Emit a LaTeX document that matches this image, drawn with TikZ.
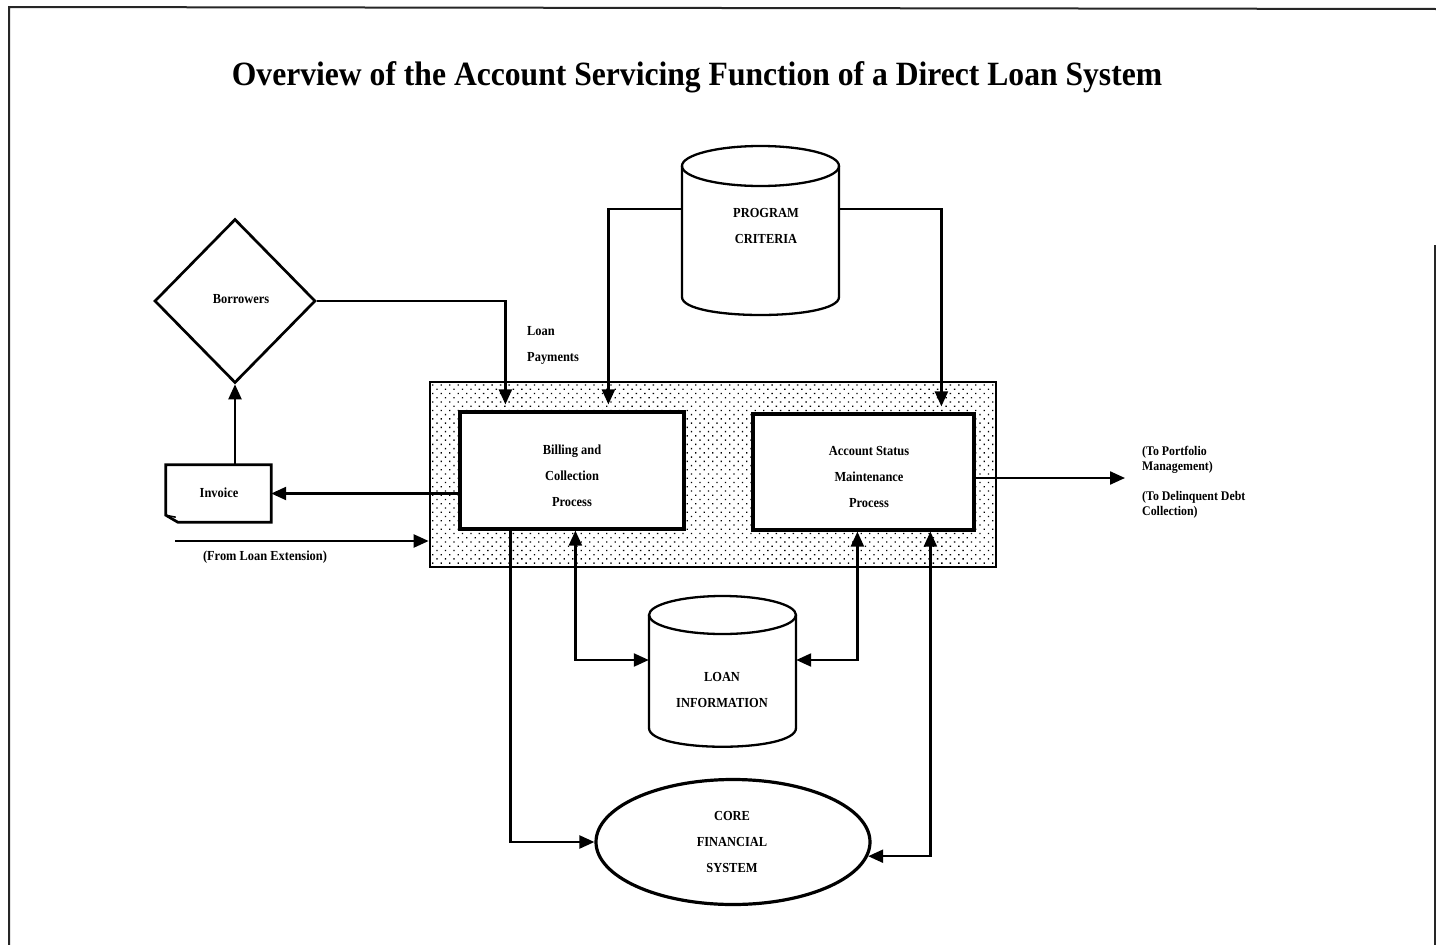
\documentclass[tikz,border=0pt]{standalone}
\usepackage{fontspec}
\setmainfont{Liberation Serif}
\newfontfamily\condserif[FakeStretch=0.9]{Liberation Serif}
\newfontfamily\titleserif[FakeStretch=0.93]{Liberation Serif}
\usetikzlibrary{shapes.geometric,arrows.meta,patterns.meta}
\begin{document}
\begin{tikzpicture}[x=1pt,y=-1pt,
  txt/.style={font=\condserif\bfseries\fontsize{13.8}{26}\selectfont, align=center, inner sep=0pt},
  smalltxt/.style={font=\condserif\bfseries\fontsize{13.2}{15.5}\selectfont, align=left, inner sep=0pt},
  conn/.style={line width=2.3pt, draw=black},
  arr/.style={conn, -{Triangle[length=15pt,width=13pt]}},
  darr/.style={conn, {Triangle[length=15pt,width=13pt]}-{Triangle[length=15pt,width=13pt]}},
  procbox/.style={draw, line width=3.2pt, fill=white, inner sep=0pt},
  ghost/.style={draw=none, inner sep=0pt},
  dbline/.style={line width=2.3pt},
  frameline/.style={line width=2pt, black!85}]
\useasboundingbox (0,0) rectangle (1436,945);
% frame
\draw[frameline] (9,945) -- (9,7) -- (1436,9);
\draw[frameline] (1435,245) -- (1435,945);

% title
\node[font=\titleserif\bfseries\fontsize{34}{38}\selectfont, inner sep=0pt] (title) at (697,77)
  {Overview of the Account Servicing Function of a Direct Loan System};

% shaded outer box
\node[draw, line width=2.7pt, pattern={Dots[distance=6pt,radius=0.95pt,angle=45]},
  minimum width=566pt, minimum height=185pt, inner sep=0pt] (outer) at (713,474.5) {};

% process boxes
\node[procbox, minimum width=224pt, minimum height=117pt] (bill) at (572,470.5) {};
\node[txt] (billtxt) at (572,476) {Billing and\\Collection\\Process};
\node[procbox, minimum width=221pt, minimum height=116pt] (acc) at (863.5,472) {};
\node[txt] (acctxt) at (869,477) {Account Status\\Maintenance\\Process};

% program criteria cylinder
\node[ghost, minimum width=157pt, minimum height=170pt] (pc) at (760.5,230) {};
\draw[dbline, fill=white] (682,166) -- (682,297)
   .. controls (682,321) and (839,321) .. (839,297) -- (839,166);
\draw[dbline] (760.5,166) ellipse [x radius=78.5, y radius=20];
\node[txt] (pctxt) at (766,226) {PROGRAM\\CRITERIA};

% loan information cylinder
\node[ghost, minimum width=147pt, minimum height=151pt] (li) at (722.5,671.5) {};
\draw[dbline, fill=white] (649,615) -- (649,728)
   .. controls (649,753) and (796,753) .. (796,728) -- (796,615);
\draw[dbline] (722.5,615) ellipse [x radius=73.5, y radius=19];
\node[txt] (litxt) at (722,690) {LOAN\\INFORMATION};

% core financial system
\node[ellipse, draw, line width=3.2pt, minimum width=274pt, minimum height=125pt, inner sep=0pt]
  (core) at (733,842) {};
\node[txt] (coretxt) at (732,842) {CORE\\FINANCIAL\\SYSTEM};

% borrowers diamond
\node[diamond, draw, line width=2.7pt, minimum width=161pt, minimum height=164pt, inner sep=0pt]
  (bor) at (235,301) {};
\node[txt] (bortxt) at (241,299) {Borrowers};

% invoice document
\node[ghost, minimum width=105pt, minimum height=57pt] (inv) at (218.5,493.5) {};
\draw[line width=2.7pt] (inv.north west) -- (inv.north east) -- (inv.south east)
  -- ([xshift=12pt]inv.south west) -- ([yshift=7pt]inv.south west) -- cycle;
\draw[line width=1.5pt] ([yshift=7pt]inv.south west) -- ([xshift=10pt,yshift=5pt]inv.south west);
\node[txt] (invtxt) at (219,493) {Invoice};

% connectors
\draw[arr, shorten >=6pt] (bor.east) -| ([xshift=47pt]bill.north west);
\node[txt, align=left, anchor=west] (lp) at (527,345) {Loan\\Payments};

\draw[arr, shorten >=6pt] ([yshift=21pt]pc.west) -| ([xshift=150pt]bill.north west);
\draw[arr, shorten >=6pt] ([yshift=21pt]pc.east) -| ([xshift=190pt]acc.north west);

\draw[arr] (inv.east -| bill.west) -- (inv.east);
\draw[arr] (bor.south |- inv.north) -- (bor.south);

\coordinate (fle) at (175,541);
\draw[arr] (fle) -- (fle -| outer.west);
\node[txt] (fletxt) at (265,557) {(From Loan Extension)};

\coordinate (outend) at (1125,478);
\draw[arr] (outend -| acc.east) -- (outend);
\node[smalltxt, anchor=west] (port) at (1142,460) {(To Portfolio\\Management)};
\node[smalltxt, anchor=west] (delq) at (1142,505) {(To Delinquent Debt\\Collection)};

\draw[darr] ([xshift=117pt]bill.south west) |- ([yshift=11.5pt]li.west);
\draw[darr] ([xshift=106pt]acc.south west) |- ([yshift=11.5pt]li.east);
\draw[arr] ([xshift=52pt]bill.south west) |- (core.west);
\draw[darr] ([xshift=179pt]acc.south west) |- (core.354);
\end{tikzpicture}
\end{document}
